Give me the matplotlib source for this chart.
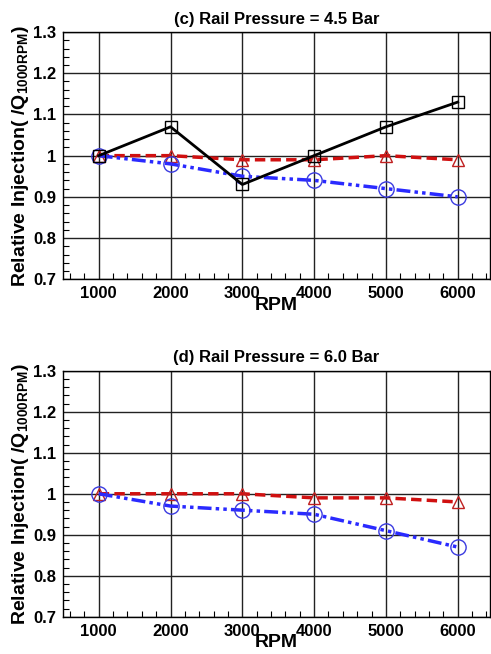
import matplotlib
matplotlib.use("Agg")
import matplotlib.pyplot as plt
from matplotlib.ticker import MultipleLocator

plt.rcParams['font.family'] = ['Liberation Sans', 'DejaVu Sans']
plt.rcParams['font.weight'] = 'bold'
plt.rcParams['mathtext.fontset'] = 'custom'
plt.rcParams['mathtext.bf'] = 'Liberation Sans:bold'
plt.rcParams['mathtext.rm'] = 'Liberation Sans:bold'

rpm = [1000, 2000, 3000, 4000, 5000, 6000]

# (c) 4.5 bar
c_black = [1.00, 1.07, 0.93, 1.00, 1.07, 1.13]
c_red = [1.00, 1.00, 0.99, 0.99, 1.00, 0.99]
c_blue = [1.00, 0.98, 0.95, 0.94, 0.92, 0.90]

# (d) 6.0 bar
d_red = [1.00, 1.00, 1.00, 0.99, 0.99, 0.98]
d_blue = [1.00, 0.97, 0.96, 0.95, 0.91, 0.87]

titles = ["(c) Rail Pressure = 4.5 Bar", "(d) Rail Pressure = 6.0 Bar"]


def style_axes(ax, title):
    ax.set_xlim(500, 6450)
    ax.set_ylim(0.7, 1.3)
    ax.xaxis.set_minor_locator(MultipleLocator(200))
    ax.yaxis.set_minor_locator(MultipleLocator(0.02))
    ax.set_yticks([0.7, 0.8, 0.9, 1.0, 1.1, 1.2, 1.3])
    ax.set_yticklabels(["0.7", "0.8", "0.9", "1", "1.1", "1.2", "1.3"])
    ax.set_xticks([1000, 2000, 3000, 4000, 5000, 6000])
    ax.grid(True, which='major', color='#222222', lw=1.0)
    ax.tick_params(which='both', direction='in', labelsize=12)
    ax.tick_params(which='major', length=0, pad=5)
    ax.tick_params(which='minor', length=4, width=0.8)
    for s in ax.spines.values():
        s.set_linewidth(1.0)
    ax.set_title(title, fontsize=12, fontweight='bold', pad=6)
    ax.set_xlabel("RPM", fontsize=14, fontweight='bold', labelpad=-3)
    ax.set_ylabel("Relative Injection( /Q$_{\\mathrm{1000RPM}}$)", fontsize=14,
                  fontweight='bold', labelpad=1)


fig = plt.figure(figsize=(4.91, 6.54), dpi=100)
ax1 = fig.add_axes([0.128, 0.573, 0.87, 0.378])
ax2 = fig.add_axes([0.128, 0.057, 0.87, 0.376])

mk = dict(mfc='none', markersize=9, markeredgewidth=1.0)
red_ls = (0, (3, 1.5))
blue_ls = (0, (4, 1.2, 1, 1.2, 1, 1.2))

ax1.plot(rpm, c_black, color='black', lw=2, marker='s', mec='black', **mk, zorder=4)
ax1.plot(rpm, c_red, color='#d01010', lw=2.5, ls=red_ls, marker='^', mec='#c02020', **mk, zorder=3)
ax1.plot(rpm, c_blue, color='#2a2aff', lw=2.5, ls=blue_ls, marker='o',
         mec='#3a3ae0', **dict(mk, markersize=11), zorder=3)
style_axes(ax1, titles[0])

ax2.plot(rpm, d_red, color='#d01010', lw=2.5, ls=red_ls, marker='^', mec='#c02020', **mk, zorder=3)
ax2.plot(rpm, d_blue, color='#2a2aff', lw=2.5, ls=blue_ls, marker='o',
         mec='#3a3ae0', **dict(mk, markersize=11), zorder=3)
style_axes(ax2, titles[1])

fig.savefig("out.png", dpi=100)
